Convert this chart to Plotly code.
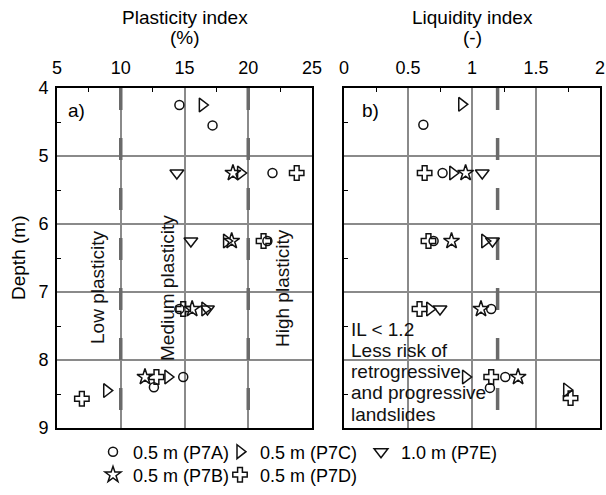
import plotly.graph_objects as go

# Plasticity index (%) by depth (m)
pi_depth_7a = [4.25, 4.55, 5.25, 6.25, 7.25, 8.25, 8.40]
pi_7a = [14.6, 17.2, 21.9, 21.5, 14.6, 14.9, 12.6]
pi_depth_7b = [5.25, 6.25, 7.25, 8.25]
pi_7b = [18.8, 18.7, 15.6, 11.9]
pi_depth_7c = [4.25, 5.25, 6.25, 7.25, 8.25, 8.45]
pi_7c = [16.4, 19.4, 18.3, 16.6, 13.7, 8.9]
pi_depth_7d = [5.25, 6.25, 7.25, 8.25, 8.57]
pi_7d = [23.8, 21.2, 14.9, 12.8, 6.95]
pi_depth_7e = [5.25, 6.25, 7.25]
pi_7e = [14.4, 15.5, 16.8]

# Liquidity index (-) by depth (m)
li_depth_7a = [4.54, 5.25, 6.25, 7.25, 8.25, 8.41]
li_7a = [0.62, 0.77, 0.70, 1.15, 1.26, 1.14]
li_depth_7b = [5.25, 6.25, 7.25, 8.25]
li_7b = [0.95, 0.84, 1.07, 1.36]
li_depth_7c = [4.24, 5.25, 6.25, 7.25, 8.25, 8.44]
li_7c = [0.92, 0.85, 1.10, 0.67, 0.95, 1.74]
li_depth_7d = [5.25, 6.25, 7.25, 8.25, 8.56]
li_7d = [0.63, 0.66, 0.59, 1.15, 1.77]
li_depth_7e = [5.25, 6.25, 7.25]
li_7e = [1.08, 1.16, 0.75]

series_names = ["0.5 m (P7A)", "0.5 m (P7C)", "1.0 m (P7E)", "0.5 m (P7B)", "0.5 m (P7D)"]
series_symbols = ["circle-open", "triangle-right-open", "triangle-down-open", "star-open", "cross-open"]
series_sizes = [9, 12, 12, 12, 12]
pi_sets = [(pi_7a, pi_depth_7a), (pi_7c, pi_depth_7c), (pi_7e, pi_depth_7e),
           (pi_7b, pi_depth_7b), (pi_7d, pi_depth_7d)]
li_sets = [(li_7a, li_depth_7a), (li_7c, li_depth_7c), (li_7e, li_depth_7e),
           (li_7b, li_depth_7b), (li_7d, li_depth_7d)]

plasticity_limits = [10, 20]
liquidity_limit = 1.2

FONT = "Arial, Liberation Sans, sans-serif"
W, H = 606, 495

# each legend entry gets its own legend box: (symbol x, row y) in pixels
legend_ids = ["legend", "legend2", "legend3", "legend4", "legend5"]
legend_spots = [(110, 452), (237, 452), (378, 452), (110, 475), (237, 475)]

fig = go.Figure()
for i, name in enumerate(series_names):
    marker = dict(symbol=series_symbols[i], size=series_sizes[i], color="#111111",
                  line=dict(color="#111111", width=1.5))
    x, y = pi_sets[i]
    fig.add_trace(go.Scatter(x=x, y=y, mode="markers", name=name, marker=marker,
                             xaxis="x", yaxis="y", legend=legend_ids[i], showlegend=True))
    x, y = li_sets[i]
    fig.add_trace(go.Scatter(x=x, y=y, mode="markers", name=name, marker=marker,
                             xaxis="x2", yaxis="y2", showlegend=False))

# boundary lines
dash_line = dict(color="#6a6a6a", width=3.5, dash="22px,28px")
shapes = []
for v in plasticity_limits:
    shapes.append(dict(type="line", xref="x", yref="y", x0=v, x1=v, y0=4, y1=9,
                       line=dash_line, layer="between"))
shapes.append(dict(type="line", xref="x2", yref="y2", x0=liquidity_limit, x1=liquidity_limit,
                   y0=4, y1=9, line=dash_line, layer="between"))


def px_to_x(p):
    return p / W


def px_to_y(p):
    return 1 - p / H


axis_common = dict(showline=True, linecolor="black", linewidth=2, mirror=True,
                   showgrid=True, gridcolor="#8a8a8a", gridwidth=1.5, zeroline=False,
                   ticks="", automargin=False,
                   tickfont=dict(size=18, color="black", family=FONT))
minor_common = dict(ticks="inside", ticklen=4, tickwidth=1, tickcolor="black", showgrid=False)


def text_note(txt, cx, cy, size=19, xanchor="center", angle=0, color="black"):
    return dict(text=txt, x=px_to_x(cx), y=px_to_y(cy), xref="paper", yref="paper",
                xanchor=xanchor, yanchor="middle", textangle=angle, showarrow=False,
                font=dict(size=size, family=FONT, color=color))


annotations = []
# axis titles
for cx, l1, l2 in [(185, "Plasticity index", "(%)"), (472, "Liquidity index", "(-)")]:
    annotations.append(text_note(l1, cx, 17))
    annotations.append(text_note(l2, cx, 37))
annotations.append(text_note("Depth (m)", 18, 258, angle=-90))
# panel tags
annotations.append(text_note("a)", 66, 110, xanchor="left"))
annotations.append(text_note("b)", 360, 110, xanchor="left"))
# plasticity classes
for cx, txt in [(97, "Low plasticity"), (167, "Medium plasticity"), (282, "High plasticity")]:
    annotations.append(text_note(txt, cx, 288, angle=-90, color="#111111"))
# liquidity note, one line at a time
note_lines = ["IL < 1.2", "Less risk of", "retrogressive", "and progressive", "landslides"]
for k, line in enumerate(note_lines):
    annotations.append(text_note(line, 349, 329 + 21.3 * k, xanchor="left", color="#111111"))

legend_layout = {}
for lid, (sx, sy) in zip(legend_ids, legend_spots):
    legend_layout[lid] = dict(x=px_to_x(sx - 17), y=px_to_y(sy), xanchor="left",
                              yanchor="middle", orientation="h", bgcolor="rgba(0,0,0,0)",
                              font=dict(size=18, family=FONT, color="black"),
                              itemsizing="trace")

fig.update_layout(
    width=W, height=H,
    margin=dict(l=0, r=0, t=0, b=0, autoexpand=False),
    paper_bgcolor="white", plot_bgcolor="white",
    font=dict(family=FONT, size=18, color="black"),
    xaxis=dict(domain=[57 / W, 312 / W], range=[5, 25], side="top", dtick=5, tick0=5,
               anchor="y", ticklabelstandoff=5,
               minor=dict(dtick=2.5, tick0=5, **minor_common), **axis_common),
    yaxis=dict(domain=[1 - 428 / H, 1 - 88 / H], range=[9, 4], dtick=1, tick0=4, anchor="x",
               ticklabelstandoff=3,
               minor=dict(dtick=0.5, tick0=4, **minor_common), **axis_common),
    xaxis2=dict(domain=[344 / W, 600 / W], range=[0, 2], side="top", dtick=0.5, tick0=0,
                anchor="y2", ticklabelstandoff=5,
                minor=dict(dtick=0.25, tick0=0, **minor_common), **axis_common),
    yaxis2=dict(domain=[1 - 428 / H, 1 - 88 / H], range=[9, 4], dtick=1, tick0=4, anchor="x2",
                showticklabels=False, minor=dict(dtick=0.5, tick0=4, **minor_common),
                **axis_common),
    shapes=shapes,
    annotations=annotations,
    showlegend=True,
    **legend_layout,
)

fig.write_html("out.html")
